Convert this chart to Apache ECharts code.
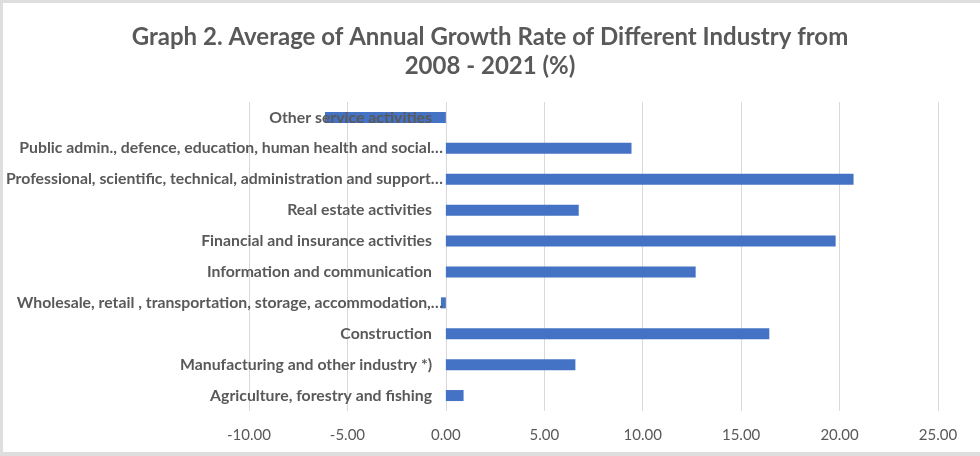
<!DOCTYPE html>
<html>
<head>
<meta charset="utf-8">
<script src="https://cdn.jsdelivr.net/npm/echarts@6/dist/echarts.min.js"></script>
<style>
html,body{margin:0;padding:0;background:#fff;}
#c{width:980px;height:456px;}
</style>
</head>
<body>
<div id="c"></div>
<script>
const categories = [
  "Agriculture, forestry and fishing",
  "Manufacturing and other industry *)",
  "Construction",
  "Wholesale, retail , transportation, storage, accommodation,…",
  "Information and communication",
  "Financial and insurance activities",
  "Real estate activities",
  "Professional, scientific, technical, administration and support…",
  "Public admin., defence, education, human health and social…",
  "Other service activities"
];
const growth = [0.90, 6.58, 16.43, -0.25, 12.69, 19.80, 6.75, 20.71, 9.43, -6.14];
const xTicks = { min: -10, max: 25, interval: 5 };

const chart = echarts.init(document.getElementById('c'));
chart.setOption({
  animation: false,
  title: {
    text: 'Graph 2. Average of Annual Growth Rate of Different Industry from\n2008 - 2021 (%)',
    left: 'center',
    top: 18,
    textStyle: { fontFamily: 'Lato', fontWeight: 'bold', fontSize: 24, color: '#595959', lineHeight: 29 }
  },
  graphic: [
    { type: 'rect', shape: { x: 0, y: 0, width: 980, height: 3 }, style: { fill: '#dedede' } },
    { type: 'rect', shape: { x: 0, y: 0, width: 3, height: 456 }, style: { fill: '#dedede' } },
    { type: 'rect', shape: { x: 0, y: 452, width: 980, height: 4 }, style: { fill: '#dedede' } }
  ],
  grid: { left: 249, right: 42, top: 102, bottom: 45, containLabel: false, outerBoundsMode: 'none' },
  xAxis: {
    type: 'value',
    min: xTicks.min, max: xTicks.max, interval: xTicks.interval,
    axisLine: { show: false },
    axisTick: { show: false },
    splitLine: { lineStyle: { color: '#d9d9d9', width: 1 } },
    axisLabel: {
      formatter: v => v.toFixed(2),
      fontFamily: 'Lato', fontSize: 15, color: '#595959', margin: 17
    }
  },
  yAxis: {
    type: 'category',
    data: categories,
    z: 3,
    axisLine: { show: false, onZero: false },
    axisTick: { show: false },
    axisLabel: {
      margin: -194,
      formatter: v => (v.endsWith('…') ? '{t|' + v + '}' : '{n|' + v + '}'),
      rich: {
        t: { fontFamily: 'Lato', fontWeight: 'bold', fontSize: 15.8, color: '#595959' },
        n: { fontFamily: 'Lato', fontWeight: 'bold', fontSize: 15.8, color: '#595959', padding: [0, 11, 0, 0] }
      }
    }
  },
  series: [{
    type: 'bar',
    data: growth,
    barWidth: 11,
    z: 2,
    itemStyle: { color: '#4472C4' }
  }]
});
</script>
</body>
</html>
